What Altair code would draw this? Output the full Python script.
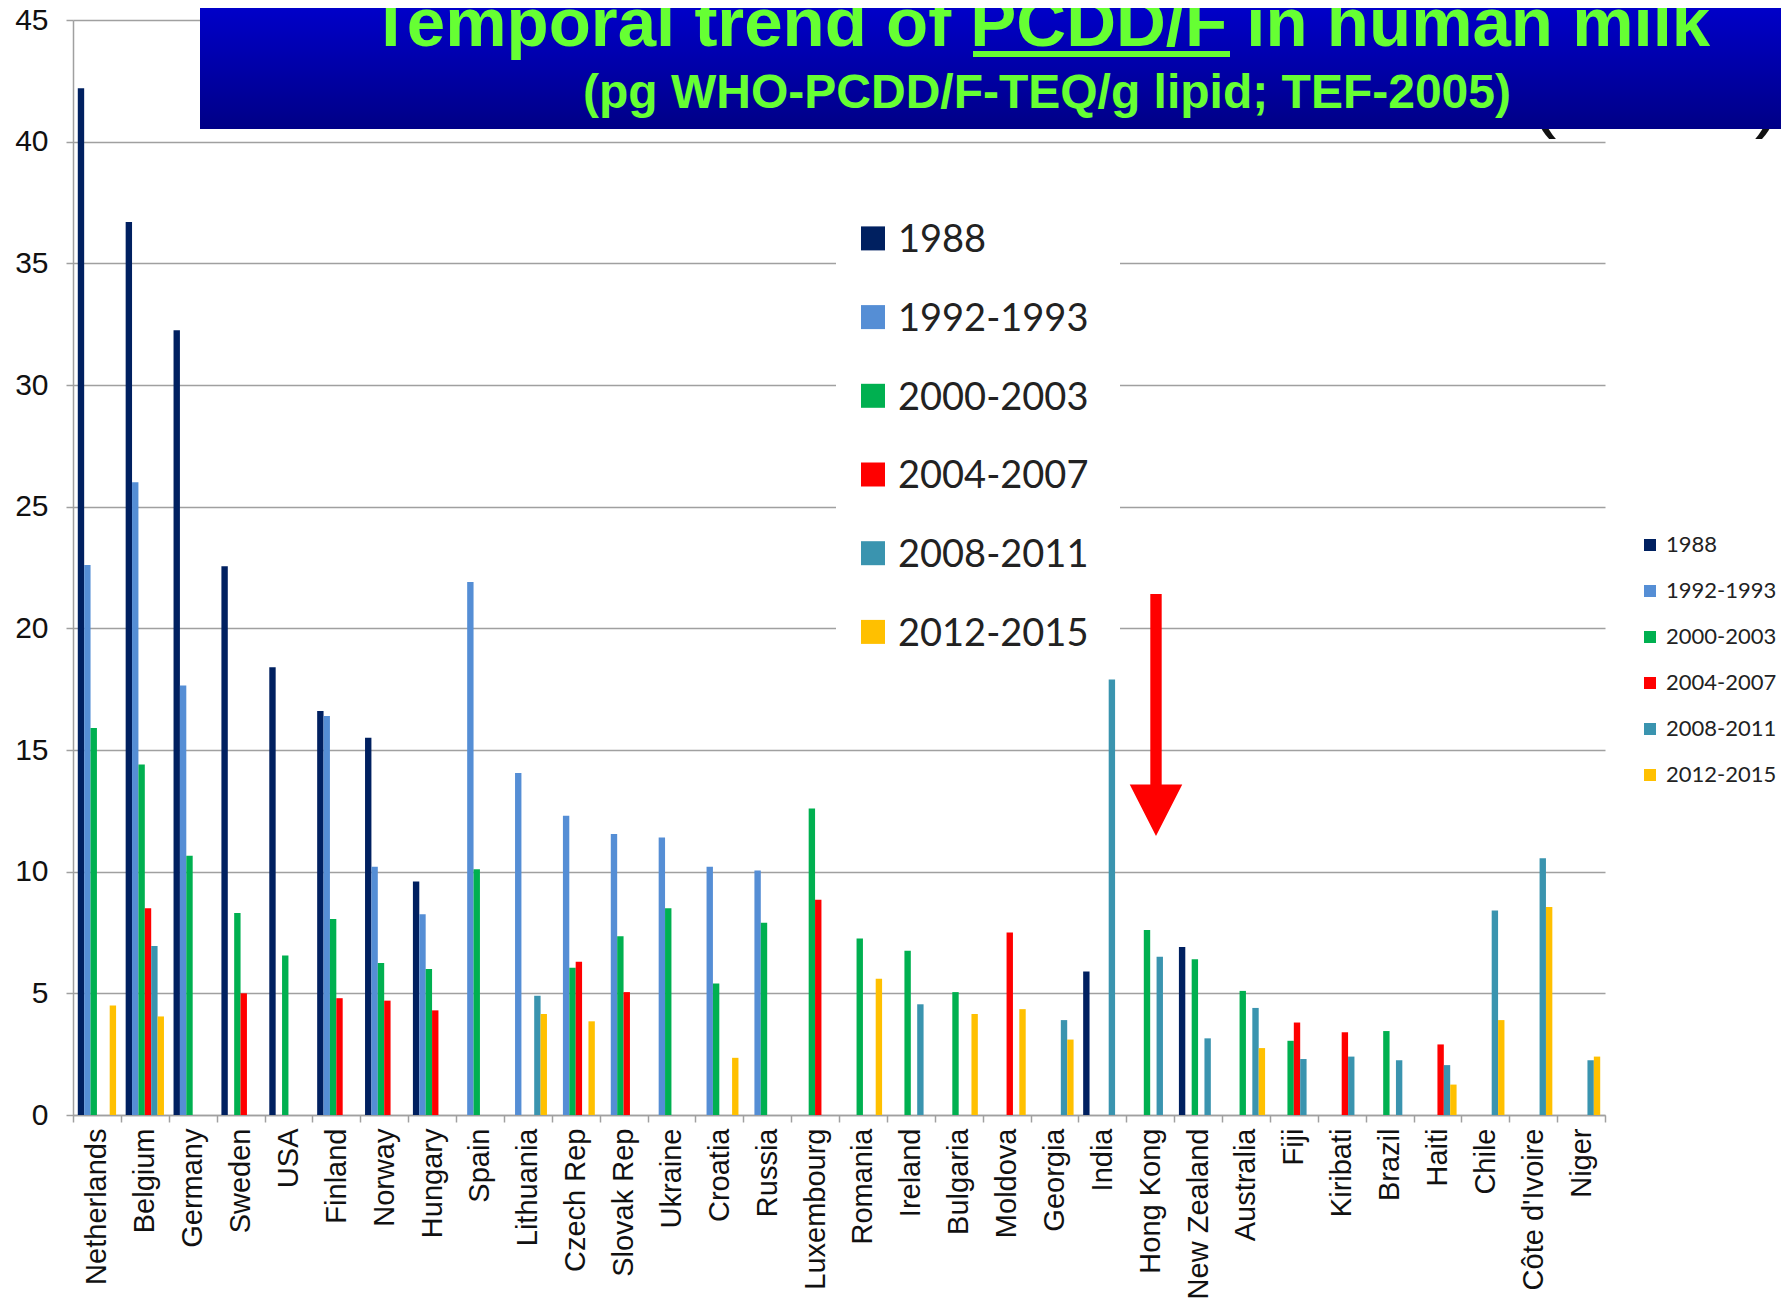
import altair as alt
import pandas as pd

countries = ["Netherlands", "Belgium", "Germany", "Sweden", "USA", "Finland", "Norway",
             "Hungary", "Spain", "Lithuania", "Czech Rep", "Slovak Rep", "Ukraine", "Croatia",
             "Russia", "Luxembourg", "Romania", "Ireland", "Bulgaria", "Moldova", "Georgia",
             "India", "Hong Kong", "New Zealand", "Australia", "Fiji", "Kiribati", "Brazil",
             "Haiti", "Chile", "Côte d'Ivoire", "Niger"]
series = ["1988", "1992-1993", "2000-2003", "2004-2007", "2008-2011", "2012-2015"]
colors = ["#002060", "#558ED5", "#00B050", "#FF0000", "#3A94AF", "#FFC000"]

N = None
v1988 = [42.2, 36.7, 32.25, 22.55, 18.4, 16.6, 15.5, 9.6, N, N, N, N, N, N, N, N,
         N, N, N, N, N, 5.9, N, 6.9, N, N, N, N, N, N, N, N]
v1992 = [22.6, 26.0, 17.65, N, N, 16.4, 10.2, 8.25, 21.9, 14.05, 12.3, 11.55, 11.4, 10.2, 10.05, N,
         N, N, N, N, N, N, N, N, N, N, N, N, N, N, N, N]
v2000 = [15.9, 14.4, 10.65, 8.3, 6.55, 8.05, 6.25, 6.0, 10.1, N, 6.05, 7.35, 8.5, 5.4, 7.9, 12.6,
         7.25, 6.75, 5.05, N, N, N, 7.6, 6.4, 5.1, 3.05, N, 3.45, N, N, N, N]
v2004 = [N, 8.5, N, 5.0, N, 4.8, 4.7, 4.3, N, N, 6.3, 5.05, N, N, N, 8.85,
         N, N, N, 7.5, N, N, N, N, N, 3.8, 3.4, N, 2.9, N, N, N]
v2008 = [N, 6.95, N, N, N, N, N, N, N, 4.9, N, N, N, N, N, N,
         N, 4.55, N, N, 3.9, 17.9, 6.5, 3.15, 4.4, 2.3, 2.4, 2.25, 2.05, 8.4, 10.55, 2.25]
v2012 = [4.5, 4.05, N, N, N, N, N, N, N, 4.15, 3.85, N, N, 2.35, N, N,
         5.6, N, 4.15, 4.35, 3.1, N, N, N, 2.75, N, N, N, 1.25, 3.9, 8.55, 2.4]

title1 = "Temporal trend of PCDD/F in human milk"
title2 = "(pg WHO-PCDD/F-TEQ/g lipid; TEF-2005)"

all_vals = [v1988, v1992, v2000, v2004, v2008, v2012]
rows = []
for s, vals in zip(series, all_vals):
    assert len(vals) == len(countries)
    for c, v in zip(countries, vals):
        if v is not None:
            rows.append({"country": c, "series": s, "value": v})
df = pd.DataFrame(rows)

W, H = 1532, 1095
one = pd.DataFrame({"k": [0]})
GRID = "#A0A0A0"

bars = alt.Chart(df).mark_bar().encode(
    x=alt.X("country:N", sort=countries,
            scale=alt.Scale(domain=countries, paddingInner=0, paddingOuter=0),
            axis=alt.Axis(title=None, labelAngle=-90, labelFont="Liberation Sans",
                          labelFontSize=29, labelColor="#111111", labelPadding=6,
                          tickBand="extent", tickColor=GRID, tickSize=7, tickWidth=1.5,
                          domainColor=GRID, domainWidth=1.5, grid=False, labelOverlap=False)),
    xOffset=alt.XOffset("series:N", sort=series,
                        scale=alt.Scale(domain=series, paddingInner=0, paddingOuter=0.75)),
    y=alt.Y("value:Q", scale=alt.Scale(domain=[0, 45], nice=False, zero=True),
            axis=alt.Axis(title=None, values=list(range(0, 50, 5)), grid=True,
                          gridColor=GRID, gridWidth=1.5, tickColor=GRID, tickSize=7,
                          tickWidth=1.5, domainColor=GRID, domainWidth=1.5,
                          labelFont="Liberation Sans", labelFontSize=30,
                          labelColor="#111111", labelPadding=18)),
    color=alt.Color("series:N", sort=series,
                    scale=alt.Scale(domain=series, range=colors),
                    legend=alt.Legend(title=None, orient="none", legendX=1566, legendY=514,
                                      symbolType="square", symbolSize=144,
                                      symbolStrokeWidth=0, labelFont="Lato",
                                      labelFontSize=22, labelColor="#222222",
                                      rowPadding=24, labelOffset=5, padding=0,
                                      direction="vertical")),
)

layers = [bars]

# big overlay legend (white box)
layers.append(alt.Chart(one).mark_rect(color="white").encode(
    x=alt.value(763), x2=alt.value(1047), y=alt.value(174), y2=alt.value(653)))
for i, (s, col) in enumerate(zip(series, colors)):
    cy = 218.4 + i * 78.7
    layers.append(alt.Chart(one).mark_square(size=576, color=col, opacity=1).encode(
        x=alt.value(800), y=alt.value(cy)))
    layers.append(alt.Chart(one).mark_text(text=s, font="Lato", fontSize=38, color="#222222",
                                           align="left", baseline="alphabetic").encode(
        x=alt.value(825), y=alt.value(cy + 13.7)))

# partially hidden parentheses behind the title box
layers.append(alt.Chart(one).mark_text(text="(", font="Liberation Sans", fontSize=80,
                                       color="#111111", align="center",
                                       baseline="alphabetic").encode(
    x=alt.value(1470), y=alt.value(102)))
layers.append(alt.Chart(one).mark_text(text=")", font="Liberation Sans", fontSize=80,
                                       color="#111111", align="center",
                                       baseline="alphabetic").encode(
    x=alt.value(1695), y=alt.value(102)))

# title box
grad = alt.Gradient(gradient="linear", x1=0, y1=0, x2=0, y2=1,
                    stops=[alt.GradientStop(color="#0000CD", offset=0),
                           alt.GradientStop(color="#000086", offset=1)])
layers.append(alt.Chart(one).mark_rect(color=grad).encode(
    x=alt.value(127), x2=alt.value(1730), y=alt.value(-20), y2=alt.value(109)))
layers.append(alt.Chart(one).mark_text(text=title1, font="Liberation Sans", fontWeight="bold",
                                       fontSize=69, color="#66FF33", align="center",
                                       baseline="alphabetic").encode(
    x=alt.value(967), y=alt.value(26)))
layers.append(alt.Chart(one).mark_rect(color="#66FF33").encode(
    x=alt.value(900), x2=alt.value(1157), y=alt.value(31), y2=alt.value(37)))
layers.append(alt.Chart(one).mark_text(text=title2, font="Liberation Sans", fontWeight="bold",
                                       fontSize=48, color="#66FF33", align="center",
                                       baseline="alphabetic").encode(
    x=alt.value(974), y=alt.value(88)))

# red arrow
arrow_path = "M-0.047,-1L0.047,-1L0.047,0.575L0.217,0.575L0,1L-0.217,0.575L-0.047,0.575Z"
layers.append(alt.Chart(one).mark_point(shape=arrow_path, size=242 * 242, filled=True,
                                        color="#FF0000", opacity=1, strokeWidth=0).encode(
    x=alt.value(1083), y=alt.value(695)))

chart = alt.layer(*layers).properties(
    width=W, height=H,
    autosize=alt.AutoSizeParams(type="none"),
    padding={"left": 65, "top": 12, "right": 176, "bottom": 185},
    background="white",
).configure_view(strokeWidth=0)

chart.save("out.html", embed_options={"renderer": "svg", "actions": False})
